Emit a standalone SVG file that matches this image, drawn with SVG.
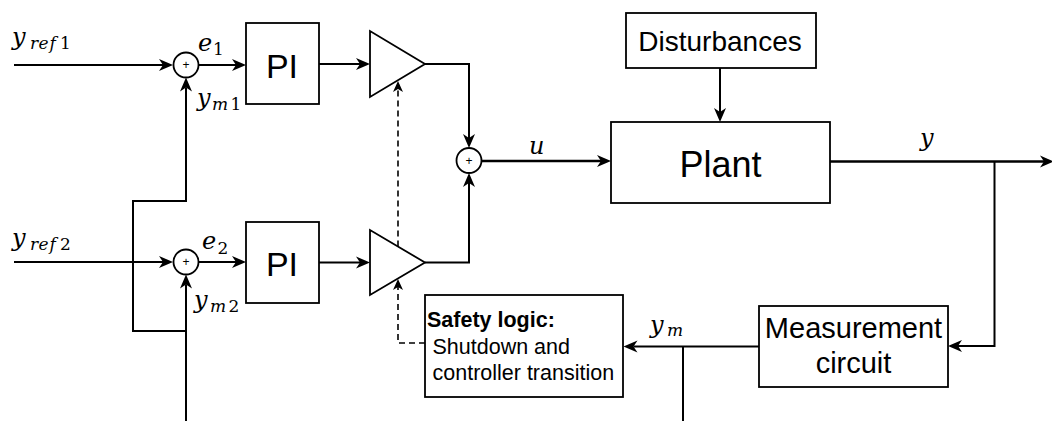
<svg xmlns="http://www.w3.org/2000/svg" width="1052" height="421" viewBox="0 0 1052 421">
<style>
.box{fill:#fff;stroke:#000;stroke-width:1.8}
.ln{fill:none;stroke:#000;stroke-width:2}
.lnb{fill:none;stroke:#000;stroke-width:2.5}
.dash{fill:none;stroke:#000;stroke-width:1.6;stroke-dasharray:6 4}
.t{font-family:"Liberation Sans",Arial,sans-serif;fill:#000}
.mi{font-family:"DejaVu Serif","Liberation Serif",serif;font-style:italic;font-size:24px;fill:#000}
.ms{font-family:"DejaVu Serif","Liberation Serif",serif;font-style:italic;font-size:17px;fill:#000}
.up{font-style:normal}
</style>
<defs>
<marker id="arr" markerUnits="userSpaceOnUse" markerWidth="16" markerHeight="14" viewBox="-5 -7 16 14" refX="0" refY="0" orient="auto"><path d="M10,0 L-4,-6 L0,0 L-4,6 Z" fill="#000"/></marker>
<marker id="arrs" markerUnits="userSpaceOnUse" markerWidth="14" markerHeight="12" viewBox="-4 -6 14 12" refX="0" refY="0" orient="auto"><path d="M8,0 L-3,-5 L0,0 L-3,5 Z" fill="#000"/></marker>
</defs>
<rect width="1052" height="421" fill="#fff"/>
<g id="connectors">
<path class="ln" d="M14,65 H163" marker-end="url(#arr)"/>
<path class="ln" d="M198.5,65 H236" marker-end="url(#arr)"/>
<path class="ln" d="M319,64 H360" marker-end="url(#arr)"/>
<path class="ln" d="M425,64 H469 V138" marker-end="url(#arr)"/>
<path class="ln" d="M425,262.5 H469 V183" marker-end="url(#arr)"/>
<path class="lnb" d="M481.5,161 H601" marker-end="url(#arr)"/>
<path class="ln" d="M720,68 V112" marker-end="url(#arr)"/>
<path class="lnb" d="M830,161.5 H1044" marker-end="url(#arr)"/>
<path class="ln" d="M994.5,161.5 V346 H958" marker-end="url(#arr)"/>
<path class="ln" d="M759,346.5 H633.5" marker-end="url(#arr)"/>
<path class="ln" d="M683,346.5 V421"/>
<path class="ln" d="M186,421 V284.5" marker-end="url(#arr)"/>
<path class="ln" d="M186,331 H133 V201 H186 V87.5" marker-end="url(#arr)"/>
<path class="ln" d="M14,262 H163" marker-end="url(#arr)"/>
<path class="ln" d="M198.5,262 H236" marker-end="url(#arr)"/>
<path class="ln" d="M319,262.5 H360" marker-end="url(#arr)"/>
<path class="dash" d="M398,246.5 V89" marker-end="url(#arrs)"/>
<path class="dash" d="M425,343 H398 V287" marker-end="url(#arrs)"/>
</g>
<g id="sum1"><circle cx="186" cy="65" r="12.5" class="box"/><text class="t" x="186" y="69" font-size="12" text-anchor="middle">+</text></g>
<g id="sum2"><circle cx="186" cy="262" r="12.5" class="box"/><text class="t" x="186" y="266" font-size="12" text-anchor="middle">+</text></g>
<g id="sum3"><circle cx="469" cy="160.5" r="12.5" class="box"/><text class="t" x="469" y="164.5" font-size="12" text-anchor="middle">+</text></g>
<g id="pi1"><rect class="box" x="246" y="23" width="73" height="81"/><text class="t" x="282" y="78" font-size="34" text-anchor="middle">PI</text></g>
<g id="pi2"><rect class="box" x="246" y="222" width="73" height="81"/><text class="t" x="282" y="276" font-size="34" text-anchor="middle">PI</text></g>
<g id="gain1"><polygon class="box" points="370,31 370,97 425,64"/></g>
<g id="gain2"><polygon class="box" points="370,230 370,295 425,262.5"/></g>
<g id="disturbances"><rect class="box" x="626" y="13" width="190" height="55"/><text class="t" x="720" y="51" font-size="28" text-anchor="middle">Disturbances</text></g>
<g id="plant"><rect class="box" x="611" y="122" width="219" height="81"/><text class="t" x="720.5" y="177" font-size="36" text-anchor="middle">Plant</text></g>
<g id="measurement"><rect class="box" x="759" y="306" width="189" height="81"/><text class="t" x="853.5" y="338" font-size="29" text-anchor="middle">Measurement</text><text class="t" x="853.5" y="372.5" font-size="29" text-anchor="middle">circuit</text></g>
<g id="safety"><rect class="box" x="425" y="295" width="198" height="102"/><text class="t" x="427" y="327" font-size="21.5" font-weight="bold">Safety logic:</text><text class="t" x="432.5" y="354" font-size="21.5">Shutdown and</text><text class="t" x="432.5" y="380" font-size="21.5">controller transition</text></g>
<g id="labels">
<text class="mi" x="12" y="45">y</text><text class="ms" y="49"><tspan x="30">r</tspan><tspan x="38.5">e</tspan><tspan x="49.5">f</tspan><tspan x="60" class="up">1</tspan></text>
<text class="mi" x="12" y="246">y</text><text class="ms" y="250"><tspan x="30">r</tspan><tspan x="38.5">e</tspan><tspan x="49.5">f</tspan><tspan x="60" class="up">2</tspan></text>
<text class="mi" x="198" y="51">e</text><text class="ms up" x="213" y="55">1</text>
<text class="mi" x="202" y="248.5">e</text><text class="ms up" x="217.5" y="253.5">2</text>
<text class="mi" x="197" y="106">y</text><text class="ms" y="110"><tspan x="212">m</tspan><tspan x="230.5" class="up">1</tspan></text>
<text class="mi" x="194" y="308">y</text><text class="ms" y="312"><tspan x="210">m</tspan><tspan x="228.5" class="up">2</tspan></text>
<text class="mi" x="529" y="154">u</text>
<text class="mi" x="920" y="146">y</text>
<text class="mi" x="650" y="333">y</text><text class="ms" x="667" y="336">m</text>
</g>
</svg>
